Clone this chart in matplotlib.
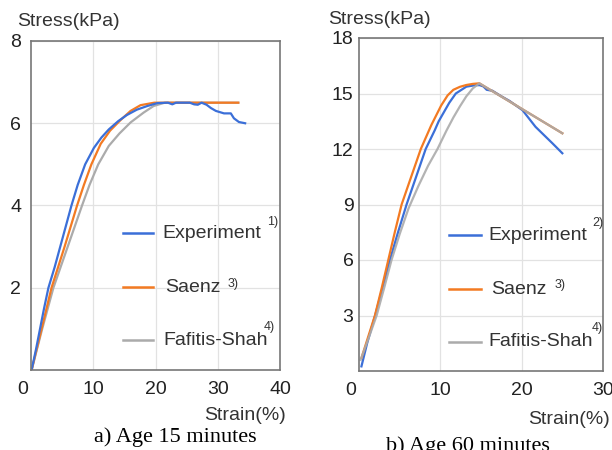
import matplotlib
matplotlib.use("Agg")
import matplotlib.pyplot as plt
from matplotlib.lines import Line2D

# ---------------- data: a) age 15 minutes ----------------
exp15_x = [0.1, 0.8, 1.45, 2.1, 2.8, 3.8, 4.7, 5.6, 6.5, 7.5, 8.7, 10.1, 11.3,
           12.5, 14.0, 15.4, 17.0, 18.7, 20.3, 22.0, 22.7, 23.3, 25.5, 26.2, 26.8,
           27.4, 28.2, 28.9, 29.7, 31.0, 32.1, 32.6, 33.4, 34.4]
exp15_y = [0.0, 0.5, 1.0, 1.5, 2.0, 2.5, 3.0, 3.5, 4.0, 4.5, 5.0, 5.4, 5.65,
           5.85, 6.05, 6.2, 6.33, 6.42, 6.49, 6.5, 6.46, 6.5, 6.5, 6.46, 6.45,
           6.5, 6.45, 6.37, 6.3, 6.24, 6.24, 6.12, 6.03, 6.0]
saenz15_x = [0.1, 1.7, 3.3, 5.4, 7.4, 8.5, 9.7, 11.2, 12.7, 14.4, 16.0, 17.6, 19.8, 33.3]
saenz15_y = [0.0, 1.0, 2.0, 3.0, 4.0, 4.5, 5.0, 5.5, 5.82, 6.08, 6.3, 6.44, 6.5, 6.5]
fs15_x = [0.1, 1.8, 3.6, 5.9, 8.2, 9.4, 10.8, 12.5, 14.2, 16.0, 18.1, 19.7, 21.5, 33.3]
fs15_y = [0.0, 1.0, 2.0, 3.0, 4.0, 4.5, 5.0, 5.45, 5.75, 6.02, 6.26, 6.42, 6.5, 6.5]

# ---------------- data: b) age 60 minutes ----------------
exp60_x = [0.3, 1.0, 1.98, 2.9, 3.8, 4.8, 5.85, 6.87, 8.2, 9.3, 9.8, 11.1, 11.9, 13.2,
           14.3, 14.85, 15.3, 15.7, 16.4, 17.5, 18.5, 20.1, 21.7, 23.8, 25.0]
exp60_y = [0.25, 1.5, 3.0, 4.5, 6.0, 7.5, 9.0, 10.3, 12.0, 13.0, 13.5, 14.5, 15.0, 15.37,
           15.45, 15.45, 15.38, 15.2, 15.15, 14.85, 14.6, 14.1, 13.2, 12.3, 11.77]
saenz60_x = [0.3, 1.96, 2.8, 3.6, 4.4, 5.24, 6.26, 7.6, 8.9, 10.1, 10.9, 11.6, 12.4,
             13.2, 14.0, 14.8, 25.0]
saenz60_y = [0.7, 3.0, 4.5, 6.0, 7.5, 9.0, 10.3, 12.0, 13.3, 14.35, 14.9, 15.2, 15.36,
             15.46, 15.52, 15.55, 12.85]
fs60_x = [0.2, 1.2, 2.17, 3.1, 4.0, 5.0, 6.1, 7.3, 8.5, 9.65, 10.76, 11.6, 12.4, 13.2,
          14.0, 14.8, 25.0]
fs60_y = [0.6, 1.8, 3.0, 4.5, 6.0, 7.4, 8.8, 10.0, 11.1, 12.0, 13.0, 13.7, 14.3, 14.85,
          15.28, 15.55, 12.85]

labels = ["Experiment", "Saenz", "Fafitis-Shah"]
refs_a = ["1)", "3)", "4)"]
refs_b = ["2)", "3)", "4)"]

xticks_a = [10, 20, 30, 40]
yticks_a = [2, 4, 6, 8]
xticks_b = [10, 20, 30]
yticks_b = [3, 6, 9, 12, 15, 18]

C_BLUE = "#3b6fd8"
C_ORANGE = "#f37a22"
C_GRAY = "#ababab"
colors = [C_BLUE, C_ORANGE, C_GRAY]

plt.rcParams["font.family"] = ["Liberation Sans", "DejaVu Sans"]

fig = plt.figure(figsize=(6.12, 4.5), dpi=100)
ax1 = fig.add_axes([31 / 612, 80 / 450, 249 / 612, 329 / 450])
ax2 = fig.add_axes([359 / 612, 79 / 450, 244 / 612, 333 / 450])


def style(ax, xlim, ylim, xt, yt, ypad):
    ax.set_xlim(*xlim)
    ax.set_ylim(*ylim)
    ax.set_xticks(xt)
    ax.set_yticks(yt)
    ax.tick_params(length=0, labelsize=14, colors="#222222")
    ax.tick_params(axis="x", pad=8)
    ax.tick_params(axis="y", pad=ypad)
    ax.grid(True, color="#e2e2e2", linewidth=0.9)
    ax.set_axisbelow(True)
    for s in ax.spines.values():
        s.set_color("#777777")
        s.set_linewidth(1.2)
    ax.annotate("0", xy=(0, 0), xycoords="data", xytext=(-6, -8),
                textcoords="offset points", ha="center", va="top",
                fontsize=14, color="#222222")


style(ax1, (0, 40), (0, 8), xticks_a, yticks_a, 7)
style(ax2, (0, 30), (0, 18), xticks_b, yticks_b, 4)

lw = 1.6
ax1.plot(fs15_x, fs15_y, color=C_GRAY, lw=lw)
ax1.plot(saenz15_x, saenz15_y, color=C_ORANGE, lw=lw)
ax1.plot(exp15_x, exp15_y, color=C_BLUE, lw=lw)

ax2.plot(exp60_x, exp60_y, color=C_BLUE, lw=lw)
ax2.plot(saenz60_x, saenz60_y, color=C_ORANGE, lw=lw)
ax2.plot(fs60_x, fs60_y, color=C_GRAY, lw=lw, alpha=0.9)


def legend(ax, ys, tx, refs, ref_pos, hx):
    for lab, col, y, x, r, (rx, ry) in zip(labels, colors, ys, tx, refs, ref_pos):
        ax.add_line(Line2D([hx[0], hx[1]], [y, y], transform=ax.transAxes,
                           color=col, lw=1.8))
        ax.text(x, y, lab, transform=ax.transAxes, fontsize=14,
                va="center", ha="left", color="#333333")
        ax.text(rx, ry, r, transform=ax.transAxes, fontsize=9,
                va="center", ha="left", color="#333333")


legend(ax1, [0.416, 0.252, 0.091], [0.526, 0.54, 0.53], refs_a,
       [(0.95, 0.45), (0.79, 0.262), (0.935, 0.132)], (0.37, 0.49))
legend(ax2, [0.408, 0.245, 0.088], [0.53, 0.54, 0.53], refs_b,
       [(0.955, 0.443), (0.80, 0.258), (0.955, 0.13)], (0.37, 0.50))

# axis titles
fig.text(17 / 612, 1 - 22 / 450, "Stress(kPa)", fontsize=14, va="center", ha="left",
         color="#333333")
fig.text(328 / 612, 1 - 20 / 450, "Stress(kPa)", fontsize=14, va="center", ha="left",
         color="#333333")
fig.text(286 / 612, 1 - 415 / 450, "Strain(%)", fontsize=14, va="center", ha="right",
         color="#333333")
fig.text(610 / 612, 1 - 420 / 450, "Strain(%)", fontsize=14, va="center", ha="right",
         color="#333333")

# captions
fig.text(175 / 612, 1 - 437 / 450, "a) Age 15 minutes", fontsize=16,
         family=["Liberation Serif", "DejaVu Serif"], ha="center", va="center")
fig.text(468 / 612, 1 - 446 / 450, "b) Age 60 minutes", fontsize=16,
         family=["Liberation Serif", "DejaVu Serif"], ha="center", va="center")

fig.savefig("out.png", dpi=100)
